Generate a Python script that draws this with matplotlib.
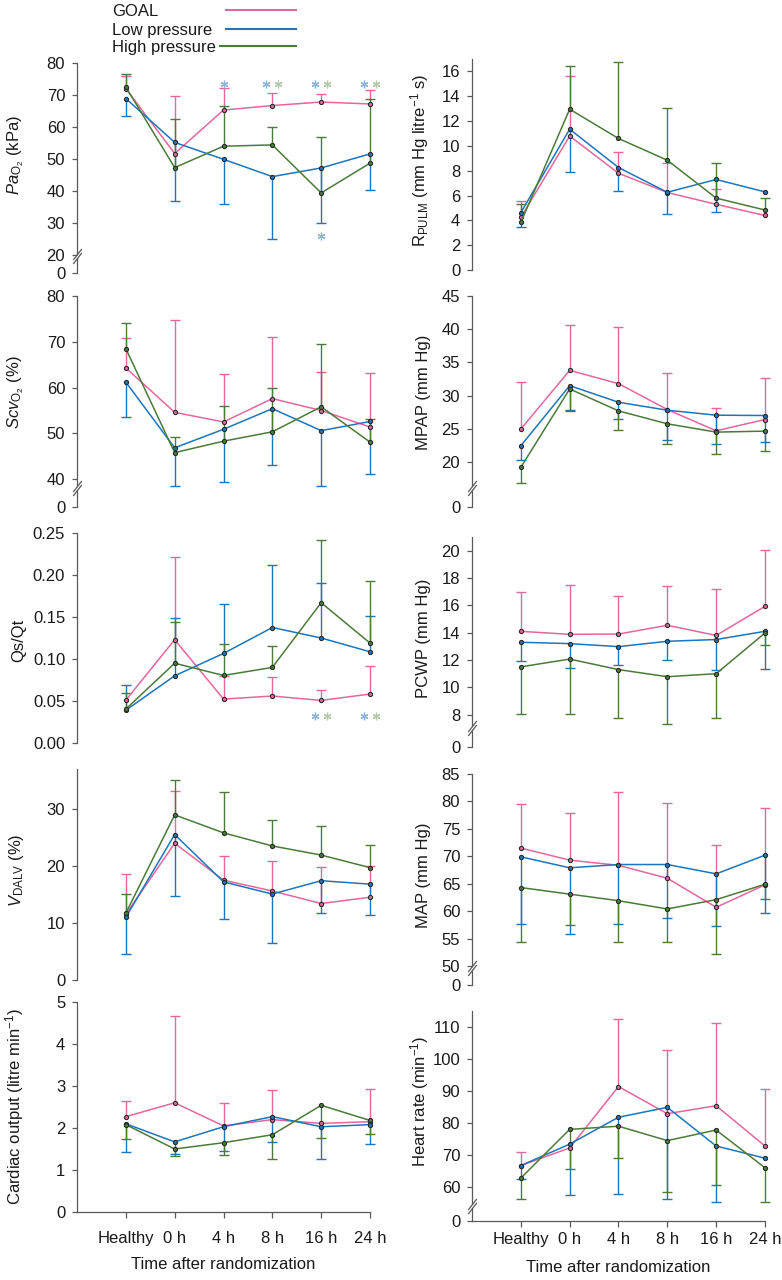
import numpy as np
import matplotlib
matplotlib.use("Agg")
import matplotlib.pyplot as plt
from matplotlib.lines import Line2D
import matplotlib.transforms as mtransforms

plt.rcParams['font.family'] = ['Liberation Sans', 'DejaVu Sans']
plt.rcParams['mathtext.fontset'] = 'custom'
plt.rcParams['mathtext.rm'] = 'Liberation Sans'
plt.rcParams['mathtext.it'] = 'Liberation Sans:italic'
plt.rcParams['mathtext.bf'] = 'Liberation Sans:bold'

nan = np.nan

# ---------------- data ----------------
time_labels = ["Healthy", "0 h", "4 h", "8 h", "16 h", "24 h"]
series_names = ["GOAL", "Low pressure", "High pressure"]

# PaO2 (kPa)
pao2_goal = [72.0, 51.7, 65.3, 66.7, 67.8, 67.2]
pao2_goal_end = [75.8, 69.8, 72.1, 70.7, 70.3, 71.6]
pao2_low = [68.9, 55.2, 49.9, 44.5, 47.2, 51.6]
pao2_low_end = [63.4, 36.9, 35.8, 25.1, 30.1, 40.3]
pao2_high = [72.5, 47.3, 54.0, 54.4, 39.4, 48.7]
pao2_high_end = [76.5, 62.6, 66.6, 59.9, 56.9, 68.8]
pao2_star_idx = [2, 3, 3, 4, 4, 5, 5, 4]
pao2_star_grp = ["low", "low", "high", "low", "high", "low", "high", "low"]
pao2_star_val = [73.5, 73.5, 73.5, 73.5, 73.5, 73.5, 73.5, 26.0]

# R_PULM
rpulm_goal = [4.25, 10.8, 7.8, 6.25, 5.3, 4.4]
rpulm_goal_end = [5.6, 15.6, 9.55, 8.6, 6.56, nan]
rpulm_low = [4.63, 11.35, 8.26, 6.27, 7.3, 6.3]
rpulm_low_end = [3.47, 7.94, 6.35, 4.55, 4.65, nan]
rpulm_high = [3.85, 12.96, 10.6, 8.85, 5.8, 4.84]
rpulm_high_end = [5.33, 16.46, 16.75, 13.07, 8.6, 5.8]

# ScvO2 (%)
scvo2_goal = [64.3, 54.6, 52.5, 57.6, 55.0, 51.4]
scvo2_goal_end = [70.8, 74.7, 63.0, 71.0, 63.5, 63.2]
scvo2_low = [61.2, 46.85, 50.9, 55.4, 50.6, 52.6]
scvo2_low_end = [53.55, 38.5, 39.3, 43.2, 38.5, 41.2]
scvo2_high = [68.5, 45.8, 48.3, 50.35, 55.8, 48.1]
scvo2_high_end = [74.2, 49.2, 56.0, 60.0, 69.6, 53.1]

# MPAP (mm Hg)
mpap_goal = [24.96, 33.8, 31.8, 27.9, 24.7, 26.4]
mpap_goal_end = [32.1, 40.7, 40.3, 33.4, 28.2, 32.6]
mpap_low = [22.45, 31.5, 29.0, 27.8, 27.05, 27.0]
mpap_low_end = [20.25, 27.8, 26.5, 23.25, 22.7, 23.05]
mpap_high = [19.2, 31.0, 27.7, 25.75, 24.5, 24.65]
mpap_high_end = [16.9, 27.7, 24.8, 22.75, 21.15, 21.6]

# Qs/Qt
qsqt_goal = [0.051, 0.123, 0.0523, 0.0559, 0.0507, 0.0583]
qsqt_goal_end = [nan, 0.2215, 0.080, 0.0785, 0.0634, 0.092]
qsqt_low = [0.039, 0.080, 0.1066, 0.1375, 0.125, 0.1086]
qsqt_low_end = [0.069, 0.149, 0.165, 0.212, 0.1906, 0.151]
qsqt_high = [0.0404, 0.095, 0.0804, 0.090, 0.167, 0.119]
qsqt_high_end = [0.059, 0.144, 0.118, 0.115, 0.242, 0.193]
qsqt_star_idx = [4, 4, 5, 5]
qsqt_star_grp = ["low", "high", "low", "high"]
qsqt_star_val = [0.0325, 0.0325, 0.0325, 0.0325]

# PCWP (mm Hg)
pcwp_goal = [14.1, 13.88, 13.9, 14.54, 13.8, 15.93]
pcwp_goal_end = [16.98, 17.5, 16.7, 17.4, 17.2, 20.05]
pcwp_low = [13.3, 13.2, 12.98, 13.37, 13.5, 14.1]
pcwp_low_end = [11.9, 11.4, 11.6, 12.0, 11.3, 11.35]
pcwp_high = [11.5, 12.07, 11.3, 10.78, 11.0, 13.98]
pcwp_high_end = [8.05, 8.05, 7.73, 7.34, 7.76, 13.1]

# V_DALV (%)
vdalv_goal = [11.5, 23.97, 17.5, 15.6, 13.4, 14.5]
vdalv_goal_end = [18.6, 33.2, 21.7, 20.8, 19.8, 20.0]
vdalv_low = [11.0, 25.5, 17.2, 15.06, 17.4, 16.8]
vdalv_low_end = [4.5, 14.8, 10.7, 6.45, 11.8, 11.4]
vdalv_high = [11.7, 28.95, 25.8, 23.5, 21.9, 19.7]
vdalv_high_end = [15.0, 35.1, 32.9, 28.1, 26.95, 23.6]

# MAP (mm Hg)
map_goal = [71.5, 69.3, 68.35, 66.0, 60.7, 64.8]
map_goal_end = [79.5, 77.9, 81.8, 79.7, 72.0, 78.8]
map_low = [69.9, 67.9, 68.5, 68.5, 66.8, 70.2]
map_low_end = [57.7, 55.8, 57.7, 58.8, 57.3, 59.75]
map_high = [64.3, 63.1, 61.9, 60.4, 62.1, 64.9]
map_high_end = [54.4, 57.5, 54.45, 54.3, 52.1, 62.3]

# Cardiac output (litre/min)
co_goal = [2.27, 2.6, 2.05, 2.2, 2.11, 2.15]
co_goal_end = [2.64, 4.66, 2.59, 2.9, nan, 2.94]
co_low = [2.1, 1.67, 2.03, 2.27, 2.03, 2.08]
co_low_end = [1.42, 1.38, 1.46, 1.67, 1.26, 1.61]
co_high = [2.08, 1.5, 1.65, 1.84, 2.54, 2.18]
co_high_end = [1.73, 1.33, 1.35, 1.26, 1.76, 1.85]

# Heart rate (1/min)
hr_goal = [66.7, 72.2, 91.4, 82.9, 85.4, 72.8]
hr_goal_end = [70.9, nan, 112.6, 102.7, 111.2, 90.75]
hr_low = [66.7, 73.4, 81.8, 84.9, 72.8, 69.0]
hr_low_end = [62.5, 57.4, 57.9, 56.1, 55.2, nan]
hr_high = [62.8, 78.0, 79.0, 74.5, 77.8, 66.0]
hr_high_end = [56.3, 65.5, 69.0, 58.3, 60.6, 55.2]

# ---------------- style ----------------
W, H = 782, 1280
COLORS = {"goal": "#e4679d", "low": "#1d76bd", "high": "#4a7b39"}
STAR_COLORS = {"low": "#8db3de", "high": "#b2c8a9"}
SPINE = "#5a5a5a"
TXT = "#1a1a1a"
FS = 12

fig = plt.figure(figsize=(W / 100, H / 100), dpi=100)

COL_X = [77, 472]
AX_W = 293


def make_fns(b, g):
    def fwd(y):
        y = np.asarray(y, dtype=float)
        return np.where(y >= b, y, (b - g) + y * (g / b))

    def inv(v):
        v = np.asarray(v, dtype=float)
        return np.where(v >= b, v, (v - (b - g)) * (b / g))
    return fwd, inv


panels = [
    dict(col=0, top=80, top_px=63, s=3.2, b=19.0, gap=15,
         ticks=[0, 20, 30, 40, 50, 60, 70, 80], fmt="{:.0f}",
         label=r"$\mathit{Pa}_{\mathrm{O}_2}$ (kPa)", label_px=155,
         data=(pao2_goal, pao2_goal_end, pao2_low, pao2_low_end, pao2_high, pao2_high_end),
         stars=(pao2_star_idx, pao2_star_grp, pao2_star_val)),
    dict(col=1, top=17, top_px=59, s=12.42, b=None, gap=0,
         ticks=[0, 2, 4, 6, 8, 10, 12, 14, 16], fmt="{:.0f}",
         label=r"R$_{\mathrm{PULM}}$ (mm Hg litre$^{-1}$ s)", label_px=160,
         data=(rpulm_goal, rpulm_goal_end, rpulm_low, rpulm_low_end, rpulm_high, rpulm_high_end),
         stars=None),
    dict(col=0, top=80, top_px=296, s=4.58, b=37.6, gap=17,
         ticks=[0, 40, 50, 60, 70, 80], fmt="{:.0f}",
         label=r"$\mathit{Scv}_{\mathrm{O}_2}$ (%)", label_px=392,
         data=(scvo2_goal, scvo2_goal_end, scvo2_low, scvo2_low_end, scvo2_high, scvo2_high_end),
         stars=None),
    dict(col=1, top=45, top_px=296, s=6.64, b=15.8, gap=17,
         ticks=[0, 20, 25, 30, 35, 40, 45], fmt="{:.0f}",
         label="MPAP (mm Hg)", label_px=392,
         data=(mpap_goal, mpap_goal_end, mpap_low, mpap_low_end, mpap_high, mpap_high_end),
         stars=None),
    dict(col=0, top=0.25, top_px=533, s=840, b=None, gap=0,
         ticks=[0, 0.05, 0.10, 0.15, 0.20, 0.25], fmt="{:.2f}",
         label="Qs/Qt", label_px=640,
         data=(qsqt_goal, qsqt_goal_end, qsqt_low, qsqt_low_end, qsqt_high, qsqt_high_end),
         stars=(qsqt_star_idx, qsqt_star_grp, qsqt_star_val)),
    dict(col=1, top=21, top_px=537, s=13.67, b=6.9, gap=17,
         ticks=[0, 8, 10, 12, 14, 16, 18, 20], fmt="{:.0f}",
         label="PCWP (mm Hg)", label_px=638,
         data=(pcwp_goal, pcwp_goal_end, pcwp_low, pcwp_low_end, pcwp_high, pcwp_high_end),
         stars=None),
    dict(col=0, top=37, top_px=769, s=5.7, b=None, gap=0,
         ticks=[0, 10, 20, 30], fmt="{:.0f}",
         label=r"$\mathit{V}_{\mathrm{DALV}}$ (%)", label_px=870,
         data=(vdalv_goal, vdalv_goal_end, vdalv_low, vdalv_low_end, vdalv_high, vdalv_high_end),
         stars=None),
    dict(col=1, top=85, top_px=774, s=5.486, b=49.3, gap=15,
         ticks=[0, 50, 55, 60, 65, 70, 75, 80, 85], fmt="{:.0f}",
         label="MAP (mm Hg)", label_px=875,
         data=(map_goal, map_goal_end, map_low, map_low_end, map_high, map_high_end),
         stars=None),
    dict(col=0, top=5, top_px=1002, s=42, b=None, gap=0,
         ticks=[0, 1, 2, 3, 4, 5], fmt="{:.0f}",
         label=r"Cardiac output (litre min$^{-1}$)", label_px=1107,
         data=(co_goal, co_goal_end, co_low, co_low_end, co_high, co_high_end),
         stars=None, bottom=True, xpad=9.5, xlab_px=1257),
    dict(col=1, top=115, top_px=1011, s=3.2, b=53.4, gap=13,
         ticks=[0, 60, 70, 80, 90, 100, 110], fmt="{:.0f}",
         label=r"Heart rate (min$^{-1}$)", label_px=1101,
         data=(hr_goal, hr_goal_end, hr_low, hr_low_end, hr_high, hr_high_end),
         stars=None, bottom=True, xpad=3.5, xlab_px=1260),
]

x = np.arange(len(time_labels))

for p in panels:
    top, top_px, s, b, gap = p["top"], p["top_px"], p["s"], p["b"], p["gap"]
    if b is None:
        ybot = top_px + top * s
    else:
        ybot = top_px + (top - b) * s + gap
    x0 = COL_X[p["col"]]
    ax = fig.add_axes([x0 / W, 1 - ybot / H, AX_W / W, (ybot - top_px) / H])
    ax.patch.set_alpha(0)
    if b is not None:
        fwd, inv = make_fns(b, gap / s)
        ax.set_yscale("function", functions=(fwd, inv))
    ax.set_xlim(-1, 5)
    ax.set_ylim(0, top)

    g_m, g_e, l_m, l_e, h_m, h_e = [np.asarray(a, dtype=float) for a in p["data"]]
    for key, m, e in (("goal", g_m, g_e), ("low", l_m, l_e), ("high", h_m, h_e)):
        c = COLORS[key]
        ok = ~np.isnan(e)
        ax.vlines(x[ok], m[ok], e[ok], colors=c, lw=1.0, clip_on=False, zorder=2)
        ax.plot(x[ok], e[ok], ls="none", marker="_", ms=7, mew=1.0, color=c,
                clip_on=False, zorder=2)
    for key, m in (("goal", g_m), ("low", l_m), ("high", h_m)):
        c = COLORS[key]
        ax.plot(x, m, color=c, lw=1.1, marker="o", ms=3.0, mfc=c, mec="#2b2b2b",
                mew=0.8, clip_on=False, zorder=3)

    if p["stars"] is not None:
        idx, grp, val = p["stars"]
        idx = np.asarray(idx)
        for i, gname, v in zip(idx, grp, val):
            same = [(j, gg) for j, gg, vv in zip(idx, grp, val) if j == i and vv == v]
            off = 0.0 if len(same) == 1 else (-0.12 if gname == "low" else 0.12)
            ax.plot([i + off], [v], ls="none", marker=(6, 2, 0), ms=5.5, mew=0.9,
                    color=STAR_COLORS[gname], clip_on=False, zorder=4)

    # spines
    for sp in ("top", "right"):
        ax.spines[sp].set_visible(False)
    ax.spines["left"].set_color(SPINE)
    ax.spines["left"].set_linewidth(0.9)
    if b is not None:
        ub = b + 4.0 / s
        ax.spines["left"].set_bounds(ub, top)
        tr = mtransforms.blended_transform_factory(ax.transAxes, ax.transData)
        ax.add_line(Line2D([0, 0], [0, b], transform=tr, color=SPINE, lw=0.9,
                           clip_on=False))
        for yy in (b, ub):
            ax.plot([0], [yy], transform=tr, ls="none",
                    marker=[(-1, -1.3), (1, 1.3)], ms=8, mew=0.9, color=SPINE,
                    clip_on=False)

    ax.set_yticks(p["ticks"])
    ax.set_yticklabels([p["fmt"].format(t) for t in p["ticks"]])
    ax.minorticks_off()
    ax.tick_params(axis="y", direction="out", length=3.5, width=0.9, color=SPINE,
                   labelsize=FS, labelcolor=TXT, pad=5)

    if p.get("bottom"):
        ax.spines["bottom"].set_color(SPINE)
        ax.spines["bottom"].set_linewidth(0.9)
        ax.set_xticks(x)
        ax.set_xticklabels(time_labels)
        ax.tick_params(axis="x", direction="out", length=4, width=0.9, color=SPINE,
                       labelsize=FS, labelcolor=TXT, pad=p["xpad"])
        ax.set_xlabel("Time after randomization", fontsize=FS, color=TXT)
        ax.xaxis.set_label_coords(0.5, -(p["xlab_px"] - ybot) / (ybot - top_px))
    else:
        ax.spines["bottom"].set_visible(False)
        ax.tick_params(axis="x", bottom=False, labelbottom=False)

    ax.set_ylabel(p["label"], fontsize=FS, color=TXT)
    lab_x = (26 - 77) / AX_W if p["col"] == 0 else (431 - 472) / AX_W
    ax.yaxis.set_label_coords(lab_x, (ybot - p["label_px"]) / (ybot - top_px))

# legend (text first, then line sample)
leg_rows = [(16, 226, "goal"), (35, 226, "low"), (52.3, 220, "high")]
for name, (base_px, lx0, key) in zip(series_names, leg_rows):
    fig.text(112 / W, 1 - base_px / H, name, fontsize=FS, color=TXT, ha="left",
             va="baseline")
    ly = 1 - (base_px - 6.5) / H
    fig.add_artist(Line2D([lx0 / W, 296 / W], [ly, ly], color=COLORS[key], lw=1.5))

fig.savefig("out.png", dpi=100)
